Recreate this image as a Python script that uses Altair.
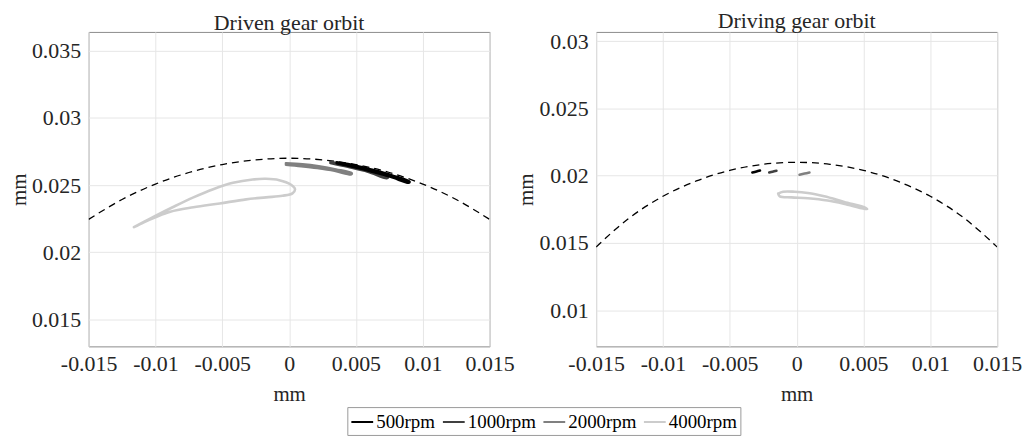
import altair as alt
import pandas as pd

FONT = "Liberation Serif"

SERIES = ["500rpm", "1000rpm", "2000rpm", "4000rpm"]
COLORS = ["#000000", "#404040", "#808080", "#cccccc"]

XTICKS = [-0.015, -0.01, -0.005, 0, 0.005, 0.01, 0.015]
YTICKS_L = [0.015, 0.02, 0.025, 0.03, 0.035]
YTICKS_R = [0.01, 0.015, 0.02, 0.025, 0.03]

# dashed clearance arcs
ARC_X = [-0.015, -0.0125, -0.01, -0.0075, -0.005, -0.0025, 0.0,
         0.0025, 0.005, 0.0075, 0.01, 0.0125, 0.015]
ARC_L_Y = [0.02245, 0.02393, 0.02508, 0.02594, 0.02653, 0.02688, 0.0270,
           0.02688, 0.02653, 0.02594, 0.02508, 0.02393, 0.02245]
ARC_R_Y = [0.01470, 0.01687, 0.01847, 0.01961, 0.02040, 0.02085, 0.0210,
           0.02085, 0.02040, 0.01961, 0.01847, 0.01687, 0.01470]

# Driven gear orbits
DN500_X = [0.00356, 0.0050, 0.0063, 0.0077, 0.00901, 0.00895, 0.0076, 0.0062, 0.0049, 0.00356]
DN500_Y = [0.02670, 0.02645, 0.02612, 0.02572, 0.02526, 0.02518, 0.02562, 0.02600, 0.02633, 0.02663]
DN1000_X = [0.00309, 0.0045, 0.0060, 0.0074, 0.0073, 0.0059, 0.0044, 0.00309]
DN1000_Y = [0.02672, 0.02647, 0.02611, 0.02560, 0.02552, 0.02600, 0.02636, 0.02664]
DN2000_X = [-0.00024, 0.0010, 0.00222, 0.0035, 0.00469, 0.00465, 0.0034, 0.0021, 0.0009, -0.00024]
DN2000_Y = [0.02662, 0.02655, 0.02640, 0.02617, 0.02588, 0.02580, 0.02607, 0.02627, 0.02641, 0.02652]
DN4000_X = [-0.01161, -0.01012, -0.00864, -0.00716, -0.00568, -0.0042, -0.00272, -0.00173,
            -0.00074, 0.00012, 0.00044, 0.00025, -0.0005, -0.00173, -0.00321, -0.00519,
            -0.00716, -0.00889, -0.0100, -0.01087, -0.01161]
DN4000_Y = [0.02187, 0.02265, 0.02339, 0.02409, 0.02470, 0.02517, 0.02542, 0.02547,
            0.02537, 0.02505, 0.02470, 0.02439, 0.02421, 0.02409, 0.02394, 0.02364,
            0.02335, 0.02302, 0.02261, 0.02224, 0.02187]

# Driving gear orbits
DR500_X = [-0.00331, -0.0030, -0.00274]
DR500_Y = [0.02024, 0.02032, 0.02039]
DR1000_X = [-0.00205, -0.0018, -0.00151]
DR1000_Y = [0.02024, 0.02030, 0.02037]
DR2000_X = [0.00022, 0.0006, 0.00096]
DR2000_Y = [0.02007, 0.02016, 0.02024]
DR4000_X = [-0.00138, -0.00101, -0.00015, 0.00084, 0.00207, 0.00356, 0.00516,
            0.00528, 0.0038, 0.00232, 0.00084, -0.00039, -0.00126, -0.00138]
DR4000_Y = [0.01867, 0.01881, 0.01881, 0.01872, 0.01847, 0.01805, 0.01761,
            0.01751, 0.01785, 0.01815, 0.01832, 0.01839, 0.01847, 0.01867]


def frame(xs, ys, name):
    return pd.DataFrame({"x": xs, "y": ys, "i": list(range(len(xs))), "series": name})


color_scale = alt.Scale(domain=SERIES, range=COLORS)


def panel(title, arc_y, orbits, ydom, yticks, legend):
    xenc = alt.X("x:Q", scale=alt.Scale(domain=[-0.015, 0.015], nice=False, zero=False),
                 axis=alt.Axis(values=XTICKS, title="mm", labelExpr="'' + datum.value",
                               labelFlush=False, labelOverlap=False, labelPadding=7,
                               titlePadding=9))
    yenc = alt.Y("y:Q", scale=alt.Scale(domain=ydom, nice=False, zero=False),
                 axis=alt.Axis(values=yticks, title="mm", labelExpr="'' + datum.value",
                               labelFlush=False, labelOverlap=False, labelPadding=8,
                               titlePadding=2))
    arc = alt.Chart(frame(ARC_X, arc_y, "arc")).mark_line(
        color="black", strokeDash=[7, 5], strokeWidth=1.3, interpolate="monotone", clip=True
    ).encode(x=xenc, y=yenc, order="i:Q")
    layers = [arc]
    for name, xs, ys in orbits:
        if legend:
            leg = alt.Legend(orient="none", legendX=260, legendY=377, direction="horizontal",
                             columns=4, title=None, symbolType="stroke", symbolSize=480,
                             symbolStrokeWidth=2, labelFont=FONT, labelFontSize=19,
                             labelColor="black", strokeColor="#999999", padding=3,
                             columnPadding=3, labelOffset=2, fillColor="white")
        else:
            leg = None
        cenc = alt.Color("series:N", scale=color_scale, legend=leg)
        layers.append(
            alt.Chart(frame(xs, ys, name)).mark_line(
                strokeWidth=2.6, interpolate="catmull-rom", strokeCap="round",
                strokeJoin="round", clip=True
            ).encode(x=xenc, y=yenc, order="i:Q", color=cenc)
        )
    return alt.layer(*layers).properties(width=403, height=316, title=title)


left = panel("Driven gear orbit", ARC_L_Y,
             [("4000rpm", DN4000_X, DN4000_Y), ("2000rpm", DN2000_X, DN2000_Y),
              ("1000rpm", DN1000_X, DN1000_Y), ("500rpm", DN500_X, DN500_Y)],
             [0.0130, 0.0364], YTICKS_L, True)
right = panel("Driving gear orbit", ARC_R_Y,
              [("4000rpm", DR4000_X, DR4000_Y), ("2000rpm", DR2000_X, DR2000_Y),
               ("1000rpm", DR1000_X, DR1000_Y), ("500rpm", DR500_X, DR500_Y)],
              [0.0073, 0.0307], YTICKS_R, False)

chart = alt.hconcat(left, right, spacing=0).properties(
    padding={"left": 0, "top": 0, "right": 0, "bottom": 0}
).configure(font=FONT).configure_axis(
    labelFont=FONT, titleFont=FONT, labelFontSize=22, titleFontSize=21,
    titleFontWeight="normal", labelColor="#262626", titleColor="#262626",
    gridColor="#e6e6e6", domain=False, ticks=False
).configure_title(
    font=FONT, fontSize=22, fontWeight="normal", color="#262626", offset=-3
).configure_view(stroke="#8c8c8c", strokeWidth=1)

chart.save("out.html", embed_options={"renderer": "svg", "actions": False})
